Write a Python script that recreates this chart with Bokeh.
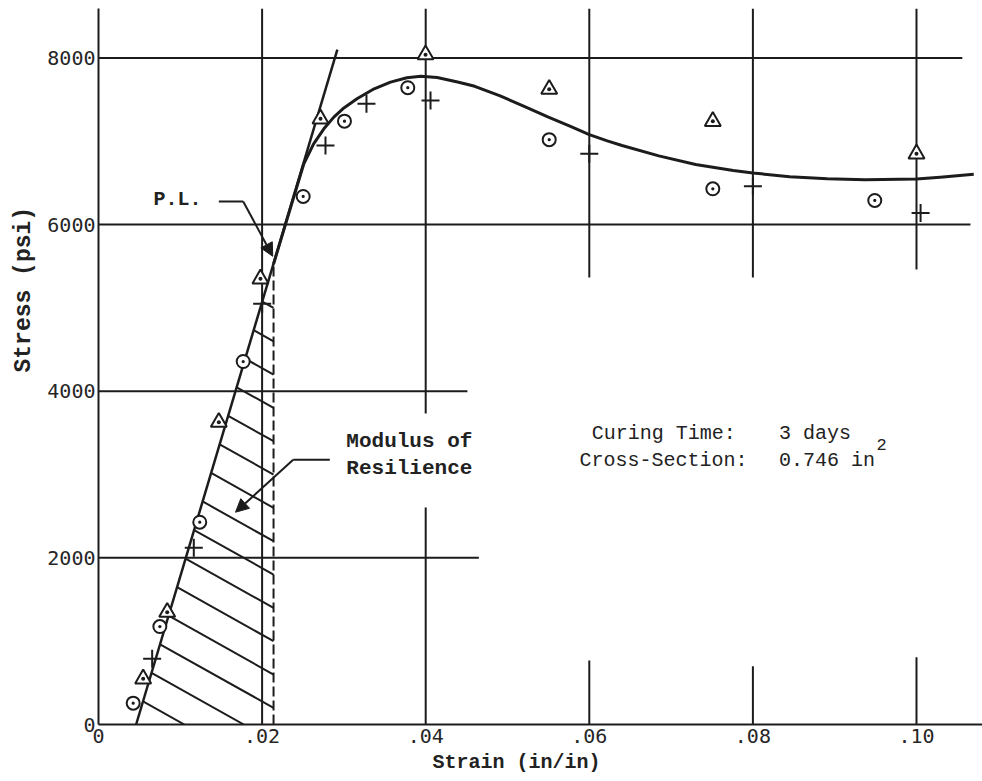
import math
from bokeh.plotting import figure
from bokeh.models import (Range1d, FixedTicker, CustomJSTickFormatter, Label,
                          Arrow, NormalHead, Title)
from bokeh.embed import file_html
from bokeh.resources import INLINE

# ---------------- data ----------------
circle_strain = [0.00424, 0.0075, 0.01238, 0.01769, 0.02502, 0.03007, 0.03781, 0.0551, 0.0751, 0.0949]
circle_stress = [256, 1176, 2428, 4357, 6338, 7242, 7643, 7020, 6430, 6290]

triangle_strain = [0.00546, 0.0084, 0.01471, 0.0198, 0.02714, 0.03998, 0.0551, 0.0751, 0.100]
triangle_stress = [548, 1348, 3629, 5350, 7270, 8040, 7625, 7240, 6850]

plus_strain = [0.00656, 0.01165, 0.02001, 0.02775, 0.03276, 0.04059, 0.0600, 0.0800, 0.1005]
plus_stress = [789, 2121, 5050, 6950, 7450, 7490, 6850, 6460, 6140]

curve_strain = [0.0214, 0.0230, 0.0251, 0.0263, 0.02755, 0.02877, 0.0300, 0.0316, 0.0337,
                0.0357, 0.0377, 0.0394, 0.0414, 0.0439, 0.0460, 0.0491, 0.0519, 0.0550,
                0.0577, 0.0600, 0.0622, 0.0640, 0.0685, 0.0730, 0.0776, 0.0800, 0.0845,
                0.0891, 0.0937, 0.1000, 0.1029, 0.1070]
curve_stress = [5527, 6050, 6730, 6970, 7150, 7290, 7400, 7510, 7630,
                7710, 7762, 7780, 7765, 7712, 7660, 7545, 7425, 7290,
                7180, 7080, 7005, 6950, 6825, 6722, 6650, 6620, 6575,
                6550, 6538, 6548, 6568, 6605]

elastic_strain = [0.0046, 0.0292]
elastic_stress = [0, 8100]

prop_limit_strain = 0.0214

x_ticks = [0, 0.02, 0.04, 0.06, 0.08, 0.10]
y_ticks = [0, 2000, 4000, 6000, 8000]

# partial grid lines of the original sheet
h_grid_levels = [8000, 6000, 4000, 2000]
h_grid_ends = [0.1056, 0.1066, 0.0451, 0.0465]
v_grid_x = [0.02, 0.04, 0.04, 0.06, 0.06, 0.08, 0.08, 0.10, 0.10]
v_grid_lo = [0, 3733, 0, 5366, 0, 5366, 0, 5460, 0]
v_grid_hi = [None, None, 2605, None, 768, None, 700, None, 808]

# ---------------- figure ----------------
INK = "#1c1c1c"
X_END = 0.10807
Y_END = 8594
MONO = "Liberation Mono"

p = figure(width=982, height=781, output_backend="svg", toolbar_location=None,
           x_range=Range1d(0, X_END), y_range=Range1d(0, Y_END),
           min_border_left=98, min_border_right=0, min_border_top=8, min_border_bottom=57)
p.outline_line_color = None
p.xgrid.visible = False
p.ygrid.visible = False
p.background_fill_color = "white"
p.border_fill_color = "white"

for ax in (p.xaxis[0], p.yaxis[0]):
    ax.axis_line_width = 2
    ax.axis_line_color = INK
    ax.major_tick_out = 0
    ax.major_tick_in = 0
    ax.minor_tick_out = 0
    ax.minor_tick_in = 0
    ax.major_label_text_font = "DejaVu Sans Mono"
    ax.major_label_text_font_size = "20px"
    ax.major_label_text_color = "#262626"

p.xaxis.ticker = FixedTicker(ticks=x_ticks)
p.xaxis.formatter = CustomJSTickFormatter(code="""
    if (Math.abs(tick) < 1e-9) { return "0"; }
    var s = (tick * 100).toFixed(0);
    if (s.length < 2) { s = "0" + s; }
    return "." + s;
""")
p.xaxis.major_label_standoff = 4
p.yaxis.ticker = FixedTicker(ticks=y_ticks)
p.yaxis.major_label_standoff = 3

# axis titles, placed along the axes as on the sheet
p.add_layout(Title(text="Strain (in/in)", align="left", offset=334, standoff=6,
                   text_font=MONO, text_font_size="20px", text_font_style="bold",
                   text_color="#222222"), "below")
p.add_layout(Title(text="Stress (psi)", align="left", offset=352, standoff=16,
                   text_font=MONO, text_font_size="23px", text_font_style="bold",
                   text_color="#222222"), "left")

# grid
p.segment(x0=[0] * len(h_grid_levels), y0=h_grid_levels, x1=h_grid_ends, y1=h_grid_levels,
          line_color=INK, line_width=2)
v_hi = [Y_END if h is None else h for h in v_grid_hi]
p.segment(x0=v_grid_x, y0=v_grid_lo, x1=v_grid_x, y1=v_hi, line_color=INK, line_width=2)

# elastic line, proportional limit, hatch
E = (elastic_stress[1] - elastic_stress[0]) / (elastic_strain[1] - elastic_strain[0])
e0 = elastic_strain[0]
pl_stress = E * (prop_limit_strain - e0)

hatch_slope = -55000.0
hx0, hy0, hx1, hy1 = [], [], [], []
for k in range(-2, 13):
    r = 200 + 400 * k
    c = r - hatch_slope * prop_limit_strain
    xl = (c + E * e0) / (E - hatch_slope)
    yl = E * (xl - e0)
    if r >= 0:
        xr, yr = prop_limit_strain, r
    else:
        xr, yr = -c / hatch_slope, 0
    hx0.append(xl); hy0.append(yl); hx1.append(xr); hy1.append(yr)
p.segment(x0=hx0, y0=hy0, x1=hx1, y1=hy1, line_color=INK, line_width=2)

p.line([prop_limit_strain, prop_limit_strain], [0, pl_stress], line_color=INK,
       line_width=2, line_dash="10 4")

p.line(elastic_strain, elastic_stress, line_color=INK, line_width=2.5)
p.line(curve_strain, curve_stress, line_color=INK, line_width=3, line_join="round")

# specimens
p.scatter(circle_strain, circle_stress, marker="circle_dot", size=13, line_width=2,
          line_color=INK, fill_color="white")
p.scatter(triangle_strain, triangle_stress, marker="triangle_dot", size=16, line_width=2,
          line_color=INK, fill_color="white")
p.scatter(plus_strain, plus_stress, marker="cross", size=18, line_width=2, line_color=INK)

# annotations
p.line([0.01471, 0.01769], [6278, 6278], line_color=INK, line_width=2)
p.add_layout(Arrow(x_start=0.01769, y_start=6278, x_end=0.0213, y_end=5620,
                   line_color=INK, line_width=2,
                   end=NormalHead(size=13, fill_color=INK, line_color=INK)))
p.line([0.02828, 0.0238], [3177, 3177], line_color=INK, line_width=2)
p.add_layout(Arrow(x_start=0.0238, y_start=3177, x_end=0.01675, y_end=2548,
                   line_color=INK, line_width=2,
                   end=NormalHead(size=13, fill_color=INK, line_color=INK)))


def lab(x, y, t, size="21px", bold=False, align="left"):
    p.add_layout(Label(x=x, y=y, text=t, text_font=MONO, text_font_size=size,
                       text_font_style="bold" if bold else "normal",
                       text_color="#222222", text_align=align,
                       text_baseline="middle"))


lab(0.00672, 6302, "P.L.", size="20px", bold=True)
lab(0.0303, 3397, "Modulus of", size="21px", bold=True)
lab(0.0303, 3073, "Resilience", size="21px", bold=True)
lab(0.0603, 3493, "Curing Time:", size="20px")
lab(0.0588, 3170, "Cross-Section:", size="20px")
lab(0.0832, 3493, "3 days", size="20px")
lab(0.0832, 3170, "0.746 in", size="20px")
lab(0.0951, 3360, "2", size="17px")

open("out.html", "w").write(file_html(p, INLINE))
